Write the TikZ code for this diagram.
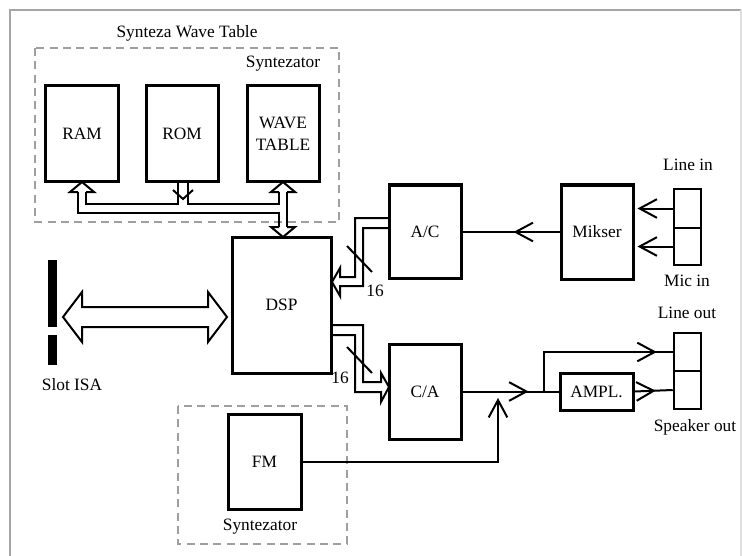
\documentclass[tikz,border=0pt]{standalone}
\usepackage{fontspec}
\setmainfont{Liberation Serif}
\usetikzlibrary{arrows.meta,decorations.markings}
\tikzset{
  mybarb/.tip={Straight Barb[length=13pt,width=14pt,line width=1.5pt]},
  every node/.style={font=\fontsize{13}{16.5}\selectfont, inner sep=0pt},
  blk/.style={draw, line width=2.25pt, rectangle, align=center},
  jack/.style={draw, line width=1.9pt, rectangle, minimum width=20.25pt},
  wire/.style={line width=1.5pt},
  hollow/.style={line width=1.5pt, line join=miter},
  grpbox/.style={draw=gray!75, line width=1.3pt, dash pattern=on 6pt off 4pt},
  frame/.style={draw=gray!70, line width=1.3pt},
  midarr/.style={postaction={decorate, decoration={markings, mark=at position #1 with {\arrow{mybarb}}}}},
  slash/.style={line width=1.5pt}
}
\begin{document}
\begin{tikzpicture}[x=0.75pt,y=-0.75pt]
\useasboundingbox (0,0) rectangle (742,556);
% outer frame
\draw[frame] (10,556) -- (10,10) -- (741,10);
\draw[draw=gray!25, line width=1pt] (741,10) -- (741,556);

% group boxes
\draw[grpbox] (35,48) rectangle (339,222);
\draw[grpbox] (178,406) rectangle (347,544);
\node (twt) at (187,33) {Synteza Wave Table};
\node (syn1) at (283,64) {Syntezator};
\node (syn2) at (260,527) {Syntezator};

% blocks
\node[blk, minimum width=54.75pt, minimum height=72pt] (ram) at (82,134) {RAM};
\node[blk, minimum width=54pt, minimum height=72pt] (rom) at (182,134) {ROM};
\node[blk, minimum width=54pt, minimum height=72pt] (wave) at (283,134) {WAVE\\TABLE};
\node[blk, minimum width=74.25pt, minimum height=102pt] (dsp) at (281.5,305) {DSP};
\node[blk, minimum width=54pt, minimum height=69.75pt] (ac) at (425,231.5) {A/C};
\node[blk, minimum width=54pt, minimum height=71.25pt] (ca) at (425,391.5) {C/A};
\node[blk, minimum width=54pt, minimum height=70.5pt] (mik) at (597,232) {Mikser};
\node[blk, minimum width=54.75pt, minimum height=27.75pt] (ampl) at (596.5,391.5) {AMPL.};
\node[blk, minimum width=54.75pt, minimum height=71.25pt] (fm) at (264.5,461.5) {FM};

% jacks
\node[jack, minimum height=29.25pt] (in1) at (687.5,208.5) {};
\node[jack, minimum height=27.75pt] (in2) at (687.5,246.5) {};
\node[jack, minimum height=28.5pt] (out1) at (687.5,352) {};
\node[jack, minimum height=28.5pt] (out2) at (687.5,390) {};
\node (linein) at (688,165) {Line in};
\node (micin) at (687,281) {Mic in};
\node (lineout) at (687,313) {Line out};
\node (spkout) at (695,427) {Speaker out};

% slot ISA
\fill (48,260) rectangle (57,327);
\fill (48,335) rectangle (57,365);
\coordinate (slot) at (52.5,316);
\node (slotlbl) at (72,385) {Slot ISA};

% ISA <-> DSP hollow double arrow
\draw[hollow] (63,317) -- (82,292) -- (82,307) -- (208,307) -- (208,292) -- (227,317)
  -- (208,342) -- (208,327) -- (82,327) -- (82,342) -- cycle;

% internal bus
% RAM arrow head and outer line
\draw[hollow] (78,192) -- (70,192) -- (82,182) -- (94,192) -- (86,192);
\draw[hollow] (78,192) -- (78,213) -- (279,213) -- (279,227);
\draw[hollow] (86,192) -- (86,204) -- (178,204) -- (178,182);
\draw[hollow] (188,182) -- (188,204) -- (279,204) -- (279,192);
\draw[hollow] (173,190) -- (183,199) -- (193,190);
% WAVE <-> DSP
\draw[hollow] (279,192) -- (271,192) -- (283,182) -- (295,192) -- (287,192);
\draw[hollow] (287,192) -- (287,227);
\draw[hollow] (279,227) -- (271,227) -- (283,237) -- (295,227) -- (287,227);

% A/C -> DSP hollow arrow
\draw[hollow] (389,218) -- (355,218) -- (355,277) -- (340,277) -- (340,268) -- (332,282)
  -- (340,296) -- (340,286) -- (363,286) -- (363,228) -- (389,228);
\draw[slash] (347,246) -- (372,272);
\node (n16a) at (375,291) {16};

% DSP -> C/A hollow arrow
\draw[hollow] (331,325) -- (363,325) -- (363,382) -- (381,382) -- (381,373) -- (389,387)
  -- (381,402) -- (381,392) -- (355,392) -- (355,335) -- (331,335);
\draw[slash] (347,347) -- (372,373);
\node (n16b) at (340,378) {16};

% signal wires
\draw[wire, midarr=34.5pt] (mik.west) -- (mik.west -| ac.east);
\draw[wire, -mybarb, shorten >=2.25pt] (in1.west) -- (in1.west -| mik.east);
\draw[wire, -mybarb, shorten >=2.25pt] (in2.west) -- (in2.west -| mik.east);
\draw[wire, midarr=-22.5pt] (ca.east) -- (ampl.west);
\coordinate (br) at (544,391.5);
\draw[wire, midarr=-12pt] (br) |- (out1.west);
\draw[wire, midarr=-12.75pt] (ampl.east) -- (out2.west);
\coordinate (sum) at (498,398);
\draw[wire, -mybarb] (fm.east) -| (sum);
\end{tikzpicture}
\end{document}
